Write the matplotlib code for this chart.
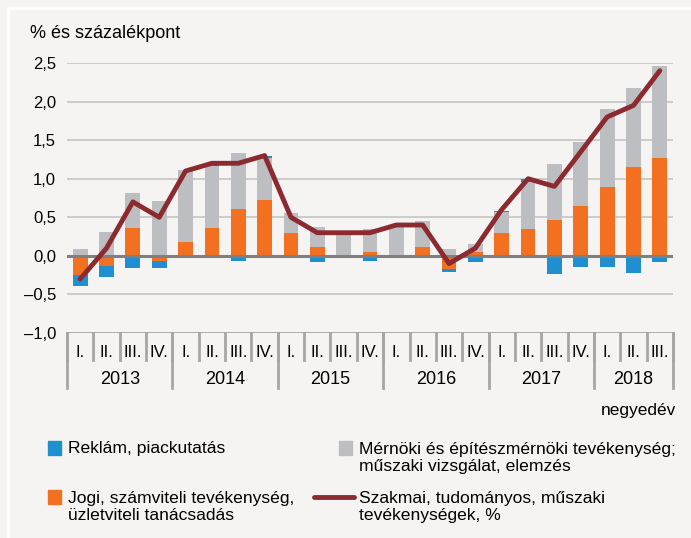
import numpy as np
import matplotlib
matplotlib.use("Agg")
import matplotlib.pyplot as plt
from matplotlib.patches import Rectangle
from matplotlib.lines import Line2D

plt.rcParams['font.family'] = ['Liberation Sans Narrow', 'Liberation Sans', 'DejaVu Sans']

quarters = ["I.", "II.", "III.", "IV."] * 5 + ["I.", "II.", "III."]
years = ["2013", "2014", "2015", "2016", "2017", "2018"]
year_len = [4, 4, 4, 4, 4, 3]

# contributions, percentage points
reklam = [-0.14, -0.155, -0.16, -0.095, -0.03, 0.02, -0.065, 0.02, -0.03, -0.086, -0.02, -0.065,
          0.0, 0.0, -0.045, -0.08, 0.01, 0.03, -0.23, -0.14, -0.14, -0.22, -0.08]
jogi = [-0.25, -0.125, 0.36, -0.065, 0.18, 0.36, 0.61, 0.73, 0.29, 0.11, 0.0, 0.056,
        0.0, 0.11, -0.17, 0.056, 0.29, 0.35, 0.47, 0.65, 0.89, 1.15, 1.27]
mernoki = [0.09, 0.31, 0.46, 0.71, 0.93, 0.80, 0.72, 0.54, 0.27, 0.27, 0.28, 0.29,
           0.37, 0.34, 0.095, 0.10, 0.28, 0.61, 0.72, 0.82, 1.01, 1.03, 1.19]
szakmai = [-0.3, 0.1, 0.7, 0.5, 1.1, 1.2, 1.2, 1.3, 0.5, 0.3, 0.3, 0.3,
           0.4, 0.4, -0.1, 0.1, 0.6, 1.0, 0.9, 1.35, 1.8, 1.95, 2.4]

C_BLUE, C_ORANGE, C_GREY, C_LINE = "#1f8fd0", "#f37021", "#bdbec1", "#8b2b2f"
BG = "#f5f4f2"

fig = plt.figure(figsize=(6.91, 5.38), dpi=100, facecolor=BG)
ax = fig.add_axes([67 / 691, 1 - 333 / 538, 606 / 691, 270 / 538])
ax.set_facecolor(BG)

x = np.arange(len(szakmai))
pos = np.zeros(len(x))
neg = np.zeros(len(x))
for vals, col in [(jogi, C_ORANGE), (mernoki, C_GREY), (reklam, C_BLUE)]:
    v = np.array(vals)
    bottom = np.where(v >= 0, pos, neg)
    ax.bar(x, v, 0.56, bottom=bottom, color=col, zorder=2)
    pos += np.where(v >= 0, v, 0)
    neg += np.where(v < 0, v, 0)

ax.plot(x, szakmai, color=C_LINE, lw=3.5, zorder=4, solid_capstyle="round")

ax.set_xlim(-0.5, len(x) - 0.5)
ax.set_ylim(-1.0, 2.5)
yt = np.arange(-1.0, 2.51, 0.5)
ax.set_yticks(yt)
ax.set_yticklabels([f"{v:.1f}".replace(".", ",").replace("-", "\u2013") for v in yt], fontsize=12)
ax.tick_params(axis="y", length=0, pad=8)
ax.set_xticks([])
for s in ax.spines.values():
    s.set_visible(False)
for v in yt:
    if v == 0:
        ax.axhline(0, color="#7f7f7f", lw=2.2, zorder=3)
    elif v == -1.0:
        ax.axhline(v, color="#a6a6a6", lw=2, zorder=3)
    else:
        ax.axhline(v, color="#c4c4c4", lw=1.2, zorder=1)

# category axis
tr = ax.get_xaxis_transform()
for i in range(len(x) + 1):
    ax.plot([i - 0.5, i - 0.5], [0, -0.1], transform=tr, color="#a6a6a6", lw=2, clip_on=False)
for i, q in enumerate(quarters):
    ax.text(i, -0.074, q, transform=tr, ha="center", va="center", fontsize=12)
start = 0
for y, n in zip(years, year_len):
    ax.plot([start - 0.5, start - 0.5], [0, -0.204], transform=tr, color="#a6a6a6", lw=2, clip_on=False)
    ax.text(start + n / 2 - 0.5, -0.174, y, transform=tr, ha="center", va="center", fontsize=13)
    start += n
ax.plot([start - 0.5, start - 0.5], [0, -0.204], transform=tr, color="#a6a6a6", lw=2, clip_on=False)

fig.text(676 / 691, 1 - 410 / 538, "negyedév", ha="right", va="center", fontsize=12.5)
fig.text(30 / 691, 1 - 33 / 538, "% és százalékpont", ha="left", va="center", fontsize=13)

# frame lines
fig.add_artist(Line2D([8 / 691, 1], [1 - 8 / 538] * 2, color="white", lw=2))
fig.add_artist(Line2D([8 / 691] * 2, [0, 1 - 8 / 538], color="white", lw=2))

# legend
def sq(px, py, col):
    fig.add_artist(Rectangle((px / 691, 1 - (py + 7) / 538), 13 / 691, 14 / 538,
                             color=col, transform=fig.transFigure))

lfs = 12.6
sq(48, 448, C_BLUE)
fig.text(68 / 691, 1 - 448 / 538, "Reklám, piackutatás", va="center", fontsize=lfs)
sq(48, 497, C_ORANGE)
fig.text(68 / 691, 1 - 507 / 538, "Jogi, számviteli tevékenység,\nüzletviteli tanácsadás",
         va="center", fontsize=lfs, linespacing=1.2)
sq(339, 448, C_GREY)
fig.text(359 / 691, 1 - 458 / 538, "Mérnöki és építészmérnöki tevékenység;\nműszaki vizsgálat, elemzés",
         va="center", fontsize=lfs, linespacing=1.2)
fig.add_artist(Line2D([314 / 691, 354 / 691], [1 - 497 / 538] * 2, color=C_LINE, lw=3.5,
                      solid_capstyle="round"))
fig.text(359 / 691, 1 - 507 / 538, "Szakmai, tudományos, műszaki\ntevékenységek, %",
         va="center", fontsize=lfs, linespacing=1.2)

fig.savefig("out.png", dpi=100, facecolor=BG)
